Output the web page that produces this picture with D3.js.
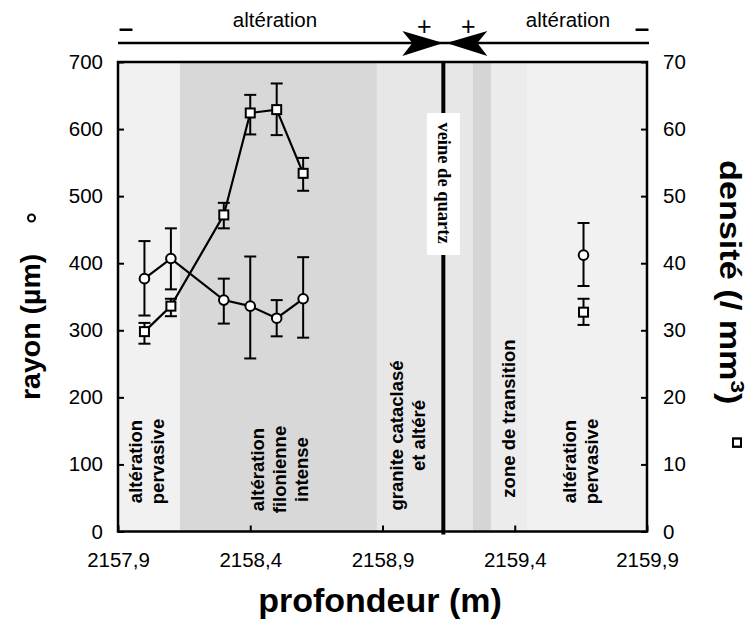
<!DOCTYPE html>
<html><head><meta charset="utf-8">
<script src="https://cdn.jsdelivr.net/npm/d3@7"></script>
<style>
body{margin:0;background:#fff}
svg{display:block}
text{font-family:"Liberation Sans",Arial,Helvetica,sans-serif;fill:#000}
</style>
</head><body>
<svg id="chart" width="750" height="628"></svg>
<script>
// ---------- data ----------
const depthTicks = [2157.9, 2158.4, 2158.9, 2159.4, 2159.9];
const rayonTicks = [0, 100, 200, 300, 400, 500, 600, 700];
const densiteTicks = [0, 10, 20, 30, 40, 50, 60, 70];

const depth = [2158.0, 2158.1, 2158.3, 2158.4, 2158.5, 2158.6];
const rayon = [377, 407, 345, 336, 318, 347];
const rayonLow = [322, 361, 310, 258, 291, 289];
const rayonHigh = [433, 452, 377, 410, 345, 409];
const densite = [29.8, 33.6, 47.2, 62.4, 62.9, 53.4];
const densiteLow = [28.0, 32.1, 45.2, 59.2, 59.1, 50.8];
const densiteHigh = [31.1, 34.7, 49.0, 65.1, 66.8, 55.7];

const depthIso = [2159.66];
const rayonIso = [412];
const rayonIsoLow = [366];
const rayonIsoHigh = [460];
const densiteIso = [32.7];
const densiteIsoLow = [30.8];
const densiteIsoHigh = [34.7];

const veinDepth = 2159.13;
const bandStart = [2157.9, 2158.134, 2158.879, 2159.13, 2159.242, 2159.31, 2159.446];
const bandEnd   = [2158.134, 2158.879, 2159.13, 2159.242, 2159.31, 2159.446, 2159.9];
const bandKind  = ["pervasive", "filonienne", "cataclase", "cataclase", "filonienne2", "transition", "pervasive"];

const bandLabels = [["altération", "pervasive"], ["altération", "filonienne", "intense"],
                    ["granite cataclasé", "et altéré"], ["zone de transition"], ["altération", "pervasive"]];
const bandLabelDepth = [2158.006, 2158.512, 2158.996, 2159.378, 2159.649];

// ---------- styles / layout ----------
const kindColor = {pervasive: "#f1f1f1", filonienne: "#d8d8d8", filonienne2: "#d5d5d5",
                   cataclase: "#e7e7e7", transition: "#ececec"};
const labelLift = [70, 62, 96, 113, 70];   // px above bottom axis for label centers
const L = 118, R = 647, T = 62, B = 531.5;

const svg = d3.select("#chart");
const x = d3.scaleLinear().domain([2157.9, 2159.9]).range([L, R]);
const yR = d3.scaleLinear().domain([0, 700]).range([B, T]);
const yD = d3.scaleLinear().domain([0, 70]).range([B, T]);

// bands
svg.append("g").selectAll("rect").data(bandStart).join("rect")
  .attr("x", (d, i) => x(d)).attr("y", T)
  .attr("width", (d, i) => x(bandEnd[i]) - x(d)).attr("height", B - T)
  .attr("fill", (d, i) => kindColor[bandKind[i]]);

// band labels
bandLabels.forEach((lines, i) => {
  const cx = x(bandLabelDepth[i]), cy = B - labelLift[i];
  const g = svg.append("g").attr("transform", `translate(${cx},${cy}) rotate(-90)`);
  lines.forEach((t, j) => {
    g.append("text").attr("x", 0).attr("y", (j - (lines.length - 1) / 2) * 22 + 6.5)
      .attr("text-anchor", "middle").attr("font-size", 18.5).attr("font-weight", "bold").text(t);
  });
});

// vein
svg.append("line").attr("x1", x(veinDepth)).attr("x2", x(veinDepth))
  .attr("y1", T).attr("y2", B + 3).attr("stroke", "#000").attr("stroke-width", 4);
svg.append("rect").attr("x", x(veinDepth) - 16.5).attr("y", 113).attr("width", 33).attr("height", 142)
  .attr("fill", "#fff");
svg.append("text").attr("transform", `translate(${x(veinDepth) - 5},183) rotate(90)`)
  .attr("text-anchor", "middle").attr("font-size", 18.5).attr("font-weight", "bold")
  .style("font-family", '"Liberation Serif","Times New Roman",serif').text("veine de quartz");

// axes
function styleAxis(g) {
  g.select(".domain").remove();
  g.selectAll(".tick line").attr("stroke", "#000").attr("stroke-width", 2);
  g.selectAll(".tick text").attr("font-size", 20.5).style("font-family", '"Liberation Sans",Arial,sans-serif');
}
svg.append("g").attr("transform", `translate(${L},0)`)
  .call(d3.axisLeft(yR).tickValues(rayonTicks).tickSizeInner(-6).tickSizeOuter(0).tickPadding(15))
  .call(styleAxis);
svg.append("g").attr("transform", `translate(${R},0)`)
  .call(d3.axisRight(yD).tickValues(densiteTicks).tickSizeInner(-6).tickSizeOuter(0).tickPadding(16))
  .call(styleAxis);
svg.append("g").attr("transform", `translate(0,${B})`)
  .call(d3.axisBottom(x).tickValues(depthTicks).tickSizeInner(-6).tickSizeOuter(0).tickPadding(21)
    .tickFormat(d => d.toFixed(1).replace(".", ",")))
  .call(styleAxis);

// frame
svg.append("rect").attr("x", L).attr("y", T).attr("width", R - L).attr("height", B - T)
  .attr("fill", "none").attr("stroke", "#000").attr("stroke-width", 2.5);

// series lines
const idx = d3.range(depth.length);
svg.append("path").attr("d", d3.line().x(i => x(depth[i])).y(i => yR(rayon[i]))(idx))
  .attr("fill", "none").attr("stroke", "#000").attr("stroke-width", 2.2);
svg.append("path").attr("d", d3.line().x(i => x(depth[i])).y(i => yD(densite[i]))(idx))
  .attr("fill", "none").attr("stroke", "#000").attr("stroke-width", 2.2);

// error bars
function errBars(xs, lo, hi, ys) {
  const g = svg.append("g").attr("stroke", "#000").attr("stroke-width", 2);
  xs.forEach((d, i) => {
    const cx = x(d);
    g.append("line").attr("x1", cx).attr("x2", cx).attr("y1", ys(lo[i])).attr("y2", ys(hi[i]));
    g.append("line").attr("x1", cx - 6).attr("x2", cx + 6).attr("y1", ys(lo[i])).attr("y2", ys(lo[i]));
    g.append("line").attr("x1", cx - 6).attr("x2", cx + 6).attr("y1", ys(hi[i])).attr("y2", ys(hi[i]));
  });
}
errBars(depth, rayonLow, rayonHigh, yR);
errBars(depth, densiteLow, densiteHigh, yD);
errBars(depthIso, rayonIsoLow, rayonIsoHigh, yR);
errBars(depthIso, densiteIsoLow, densiteIsoHigh, yD);

// markers
function circles(xs, vs) {
  svg.append("g").selectAll("circle").data(xs).join("circle")
    .attr("cx", d => x(d)).attr("cy", (d, i) => yR(vs[i])).attr("r", 4.8)
    .attr("fill", "#fff").attr("stroke", "#000").attr("stroke-width", 2);
}
function squares(xs, vs) {
  svg.append("g").selectAll("rect").data(xs).join("rect")
    .attr("x", d => x(d) - 4.5).attr("y", (d, i) => yD(vs[i]) - 4.5).attr("width", 9).attr("height", 9)
    .attr("fill", "#fff").attr("stroke", "#000").attr("stroke-width", 2);
}
circles(depth, rayon); circles(depthIso, rayonIso);
squares(depth, densite); squares(depthIso, densiteIso);

// top annotation
const xv = x(veinDepth);
svg.append("line").attr("x1", L).attr("x2", R + 2).attr("y1", 43).attr("y2", 43)
  .attr("stroke", "#000").attr("stroke-width", 2.5);
svg.append("path").attr("d", `M${xv},43 L${xv - 41},31 L${xv - 31},43 L${xv - 41},56 Z`).attr("fill", "#000");
svg.append("path").attr("d", `M${xv + 3},43 L${xv + 44},31 L${xv + 34},43 L${xv + 44},56 Z`).attr("fill", "#000");
svg.append("text").attr("x", 275).attr("y", 27).attr("text-anchor", "middle").attr("font-size", 20.5).text("altération");
svg.append("text").attr("x", 568).attr("y", 27).attr("text-anchor", "middle").attr("font-size", 20.5).text("altération");
svg.append("text").attr("x", xv - 19).attr("y", 35).attr("text-anchor", "middle").attr("font-size", 25).text("+");
svg.append("text").attr("x", xv + 25).attr("y", 35).attr("text-anchor", "middle").attr("font-size", 25).text("+");
svg.append("text").attr("x", 126).attr("y", 37).attr("text-anchor", "middle").attr("font-size", 26).attr("font-weight", "bold").text("–");
svg.append("text").attr("x", 642).attr("y", 37).attr("text-anchor", "middle").attr("font-size", 26).attr("font-weight", "bold").text("–");

// axis titles
svg.append("text").attr("x", 380).attr("y", 612).attr("text-anchor", "middle")
  .attr("font-size", 34).attr("font-weight", "bold").text("profondeur (m)");
const lt = svg.append("g").attr("transform", "translate(40,400) rotate(-90)");
lt.append("text").attr("x", 0).attr("y", 0).attr("font-size", 28.5).attr("font-weight", "bold").text("rayon (µm)");
lt.append("circle").attr("cx", 182).attr("cy", -8.5).attr("r", 3.5).attr("fill", "none").attr("stroke", "#000").attr("stroke-width", 2);
const rt = svg.append("g").attr("transform", "translate(720,160) rotate(90) scale(1.18,1)");
const rtx = rt.append("text").attr("x", 0).attr("y", 0).attr("font-size", 29).attr("font-weight", "bold");
rtx.append("tspan").text("densité (/ mm");
rtx.append("tspan").attr("dy", -11).attr("font-size", 19).text("3");
rtx.append("tspan").attr("dy", 11).text(")");
rt.append("rect").attr("x", 236).attr("y", -21).attr("width", 7).attr("height", 8)
  .attr("fill", "none").attr("stroke", "#000").attr("stroke-width", 2);
</script>
</body></html>
